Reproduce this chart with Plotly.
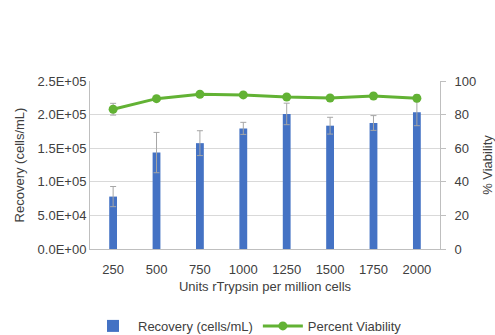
import plotly.graph_objects as go
from plotly.subplots import make_subplots

units = ["250", "500", "750", "1000", "1250", "1500", "1750", "2000"]
recovery = [78000, 143500, 157500, 179500, 201000, 183500, 187500, 203500]
recovery_err = [15000, 30000, 18500, 9000, 16000, 12500, 11000, 20000]
viability = [83.2, 89.5, 92.1, 91.7, 90.5, 89.9, 91.1, 89.7]
viability_err = [3.5, 1.0, 1.0, 1.0, 1.0, 1.0, 1.0, 2.0]

left_tickvals = [0, 50000, 100000, 150000, 200000, 250000]
left_ticktext = ["0.0E+00", "5.0E+04", "1.0E+05", "1.5E+05", "2.0E+05", "2.5E+05"]
right_tickvals = [0, 20, 40, 60, 80, 100]

font_family = "Liberation Sans, Arial, sans-serif"
text_color = "#404040"
grid_color = "#d9d9d9"

fig = make_subplots(specs=[[{"secondary_y": True}]])

fig.add_trace(go.Bar(
    x=units, y=recovery, name="Recovery (cells/mL)",
    marker=dict(color="#4472C4", line=dict(width=0)),
    width=0.18,
    error_y=dict(type="data", array=recovery_err, color="#a6a6a6", thickness=1, width=3),
), secondary_y=False)

fig.add_trace(go.Scatter(
    x=units, y=viability, name="Percent Viability", mode="lines+markers",
    line=dict(color="#62b234", width=3),
    marker=dict(color="#62b234", size=9),
    error_y=dict(type="data", array=viability_err, color="#a6a6a6", thickness=1, width=3),
), secondary_y=True)

fig.update_layout(
    width=495, height=335,
    margin=dict(l=90, r=55, t=81, b=86),
    paper_bgcolor="white", plot_bgcolor="white",
    font=dict(family=font_family, size=13, color=text_color),
    showlegend=True,
    legend=dict(orientation="h", x=0.5, xanchor="center", xref="container",
                y=0.027, yanchor="middle", yref="container",
                font=dict(size=13, color=text_color), itemwidth=40),
    bargap=0.8,
)

fig.update_xaxes(
    domain=[0, 1],
    title=dict(text="Units rTrypsin per million cells", font=dict(size=13, color=text_color), standoff=6),
    showline=True, linecolor="#bfbfbf", linewidth=1, showgrid=False,
    ticks="", tickfont=dict(size=13, color=text_color), ticklabelstandoff=8,
    automargin=False,
)

fig.update_yaxes(
    range=[0, 250000], tickvals=left_tickvals, ticktext=left_ticktext,
    showgrid=True, gridcolor=grid_color, gridwidth=1,
    showline=True, linecolor="#bfbfbf", linewidth=1,
    ticks="", tickfont=dict(size=13, color=text_color),
    title=dict(text="Recovery (cells/mL)", font=dict(size=13, color=text_color), standoff=10),
    zeroline=False, automargin=False,
    secondary_y=False,
)

fig.update_yaxes(
    range=[0, 100], tickvals=right_tickvals,
    showgrid=False,
    showline=True, linecolor="#bfbfbf", linewidth=1,
    ticks="outside", ticklen=5, tickcolor="#bfbfbf",
    tickfont=dict(size=13, color=text_color), ticklabelstandoff=6,
    title=dict(text="% Viability", font=dict(size=13, color=text_color), standoff=10),
    zeroline=False, automargin=False,
    secondary_y=True,
)

fig.write_html("out.html")
